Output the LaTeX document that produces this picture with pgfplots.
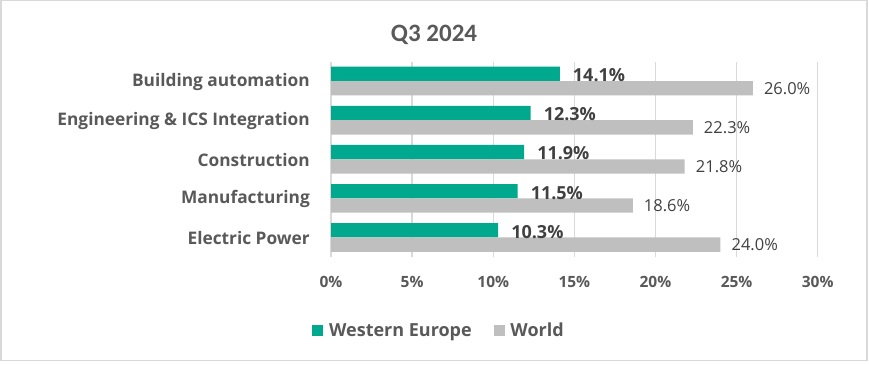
\documentclass[border=0pt]{standalone}
\usepackage{pgfplots}
\pgfplotsset{compat=1.18}
\usepackage{fontspec}
\setmainfont{Open Sans}
\newfontfamily\titlefont{Carlito}
\definecolor{teal1}{HTML}{00A88E}
\definecolor{gray1}{HTML}{BFBFBF}
\definecolor{txt}{HTML}{595959}
\definecolor{dtxt}{HTML}{404040}
\definecolor{grid1}{HTML}{D9D9D9}
\begin{document}
\begin{tikzpicture}
\useasboundingbox (0pt,0pt) rectangle (869pt,364pt);
\draw[grid1,line width=1.5pt] (0.75pt,3.75pt) rectangle (866.75pt,363.25pt);
\node[font=\titlefont\bfseries\fontsize{25}{25}\selectfont, text=txt] at (434pt,329pt) {Q3 2024};
\begin{axis}[
  at={(331pt,107pt)}, anchor=south west, scale only axis,
  width=486.7pt, height=195.5pt,
  /pgf/number format/assume math mode=true,
  xbar, xmin=0, xmax=30, ymin=-0.5, ymax=4.5,
  bar width=0.367,
  axis line style={draw=none},
  major tick length=0pt,
  xmajorgrids, grid style={grid1, line width=1.4pt},
  xtick={0,5,...,30},
  xticklabel={\pgfmathprintnumber{\tick}\%},
  xticklabel style={anchor=center, yshift=-24.5pt, inner sep=0pt, font=\bfseries\fontsize{15.5}{15.5}\selectfont, text=txt},
  ytick={0,1,2,3,4},
  yticklabels={Electric Power, Manufacturing, Construction, Engineering \& ICS Integration, Building automation},
  yticklabel style={anchor=east, xshift=-21pt, yshift=-0.5pt, inner sep=0pt, font=\bfseries\fontsize{17.3}{17.3}\selectfont, text=txt},
  point meta=x,
  legend style={at={(0.22,-0.377)}, anchor=center, draw=none, fill=none, legend columns=2,
    font=\bfseries\fontsize{18}{18}\selectfont, text=txt, inner sep=0pt,
    nodes={inner sep=0pt},
    /tikz/every odd column/.append style={column sep=5.7pt},
    /tikz/every even column/.append style={column sep=22pt}},
]
\addplot[fill=teal1, draw=none, bar shift=0.1835,
  nodes near coords={\pgfmathprintnumber[fixed,fixed zerofill,precision=1]{\pgfplotspointmeta}\%},
  every node near coord/.append style={anchor=west, inner sep=0pt, xshift=13pt, yshift=-1.5pt, font=\bfseries\fontsize{18}{18}\selectfont, text=dtxt},
  legend image code/.code={\fill[teal1] (0pt,-5.5pt) rectangle (11pt,5.5pt);}]
  coordinates {(14.1,4) (12.3,3) (11.9,2) (11.5,1) (10.3,0)};
\addlegendentry{Western Europe}
\addplot[fill=gray1, draw=none, bar shift=-0.1835,
  nodes near coords={\pgfmathprintnumber[fixed,fixed zerofill,precision=1]{\pgfplotspointmeta}\%},
  every node near coord/.append style={anchor=west, inner sep=0pt, xshift=11pt, yshift=-0.5pt, font=\fontsize{16.5}{16.5}\selectfont, text=dtxt},
  legend image code/.code={\fill[gray1] (0pt,-5.5pt) rectangle (11pt,5.5pt);}]
  coordinates {(26.0,4) (22.3,3) (21.8,2) (18.6,1) (24.0,0)};
\addlegendentry{World}
\end{axis}
\end{tikzpicture}
\end{document}
